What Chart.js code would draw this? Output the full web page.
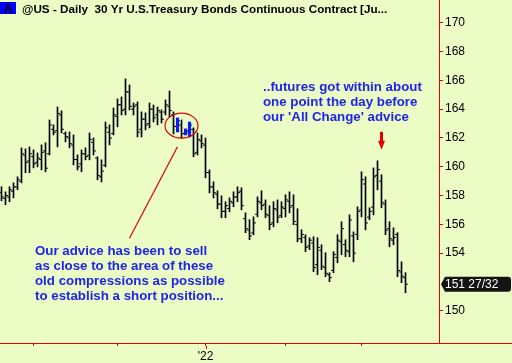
<!DOCTYPE html>
<html>
<head>
<meta charset="utf-8">
<script src="https://cdn.jsdelivr.net/npm/chart.js@4.4.0/dist/chart.umd.min.js"></script>
<style>
  html, body { margin: 0; padding: 0; background: #ebfcc5; }
  canvas { display: block; }
</style>
</head>
<body>
<canvas id="bondChart" width="512" height="363"></canvas>
<script>
// daily OHLC, one entry per trading day (Oct 2021 .. Mar 2022)
const highs = [
  158.61, 158.26, 158.61, 158.88, 159.30, 161.31, 161.24, 161.38, 161.17, 160.96,
  161.52, 161.66, 163.25, 162.91, 164.15, 163.88, 162.42, 162.42, 162.21, 160.82,
  161.17, 161.31, 162.35, 162.00, 160.69, 160.48, 163.11, 162.91, 164.08, 164.71,
  164.85, 166.10, 165.68, 164.43, 164.50, 163.81, 163.74, 164.43, 164.29, 164.15,
  163.95, 164.64, 165.26, 163.81, 163.39, 163.25, 162.63, 163.11, 162.70, 162.35,
  162.21, 162.00, 159.78, 158.95, 158.33, 157.98, 157.57, 157.84, 158.26, 158.61,
  158.54, 156.80, 156.32, 156.52, 157.91, 158.33, 157.70, 157.29, 157.57, 157.70,
  157.57, 158.05, 158.26, 158.05, 157.08, 155.62, 155.28, 155.07, 155.14, 155.07,
  154.58, 154.03, 152.64, 154.10, 155.28, 156.18, 154.93, 156.66, 155.48, 157.22,
  159.65, 159.30, 157.15, 159.92, 160.41, 159.44, 157.70, 156.18, 155.76, 155.42,
  153.40, 152.64
];
const lows = [
  157.63, 157.36, 157.57, 157.84, 158.40, 158.88, 159.58, 159.58, 159.92, 159.99,
  159.78, 159.65, 160.82, 162.21, 161.38, 162.35, 161.73, 161.31, 160.13, 159.78,
  159.65, 160.48, 160.48, 160.82, 159.09, 158.95, 159.99, 161.52, 162.21, 162.77,
  163.60, 163.60, 163.95, 163.60, 162.07, 162.07, 162.56, 162.70, 163.11, 162.91,
  163.04, 163.60, 163.46, 162.28, 162.42, 162.00, 162.21, 162.07, 160.69, 160.82,
  161.31, 159.23, 158.19, 157.84, 157.08, 156.46, 156.46, 156.87, 157.22, 157.57,
  157.01, 155.42, 154.93, 155.28, 156.52, 157.01, 156.46, 155.62, 155.83, 156.11,
  156.46, 156.52, 156.80, 155.97, 154.79, 154.72, 154.10, 154.24, 152.71, 152.50,
  152.85, 152.36, 152.02, 152.64, 153.33, 153.89, 153.75, 153.75, 153.40, 154.93,
  156.52, 155.62, 156.32, 156.66, 158.40, 157.15, 155.28, 154.44, 154.58, 152.36,
  151.95, 151.25
];
const opens = [
  158.2, 157.8, 157.9, 158.3, 158.6, 159.0, 160.8, 160.4, 160.7, 160.3,
  160.5, 161.1, 160.9, 162.6, 162.5, 163.6, 162.3, 162.0, 161.5, 160.5,
  160.2, 160.9, 160.8, 161.7, 160.6, 159.3, 160.1, 162.4, 162.3, 163.5,
  164.3, 164.0, 165.2, 164.0, 164.3, 162.6, 163.3, 163.0, 164.0, 163.6,
  163.8, 163.8, 164.2, 163.6, 162.8, 162.9, 162.3, 162.4, 162.6, 161.0,
  161.8, 161.5, 159.6, 158.6, 158.1, 157.4, 156.9, 157.1, 157.5, 157.9,
  158.3, 156.4, 155.6, 155.4, 156.7, 157.5, 157.4, 156.6, 156.1, 157.0,
  156.6, 157.1, 157.6, 157.3, 156.0, 155.0, 155.1, 154.5, 154.7, 153.2,
  154.2, 153.0, 152.5, 152.8, 153.7, 154.8, 154.6, 154.1, 155.2, 155.3,
  157.0, 158.8, 156.5, 157.2, 159.4, 159.0, 157.4, 155.7, 154.9, 155.3,
  152.7, 152.3
];
const closes = [
  157.9, 158.0, 158.4, 158.6, 159.1, 160.9, 160.3, 160.9, 160.2, 160.6,
  161.0, 159.9, 162.9, 162.4, 163.7, 162.6, 162.1, 161.6, 160.5, 160.0,
  160.9, 160.7, 161.9, 161.1, 159.4, 159.7, 162.7, 162.0, 163.6, 164.3,
  163.9, 165.2, 164.2, 164.2, 162.4, 163.3, 162.9, 164.0, 163.4, 163.9,
  163.3, 164.3, 163.9, 162.8, 163.2, 162.3, 162.5, 162.9, 160.9, 161.9,
  161.6, 159.6, 158.6, 158.2, 157.4, 156.9, 157.3, 157.6, 157.9, 158.2,
  157.3, 155.7, 155.2, 156.1, 157.6, 157.3, 156.7, 156.0, 157.1, 156.5,
  157.2, 157.7, 157.2, 156.2, 155.0, 155.3, 154.4, 154.9, 153.0, 154.4,
  153.1, 152.6, 152.3, 153.9, 154.9, 155.7, 154.2, 156.3, 154.0, 156.9,
  159.1, 156.1, 156.9, 159.3, 159.8, 157.5, 155.6, 155.0, 155.1, 152.8,
  152.4, 151.84375
];
// the old compression bars drawn in blue
const compressionBars = [44, 46, 47];
// first bar of each month, and their labels
const monthStarts = [8, 29, 51, 71, 90];
const monthLabels = ['', '', "'22", '', ''];
const yTicks = [150, 154, 156, 158, 160, 162, 164, 166, 168, 170];
const yMin = 147.76, yMax = 171.58;
const xMin = -0.375, xMax = 109.375;

const RED = '#e00000';
const BLUE_TEXT = '#1f24e8';
const BG = '#ebfcc5';
const FONT = 'Liberation Sans, Arial, sans-serif';

const idx = highs.map((h, i) => i);
const plainBars = idx.filter(i => !compressionBars.includes(i)).map(i => ({ x: i, y: [lows[i], highs[i]] }));
const blueBars = compressionBars.map(i => ({ x: i, y: [lows[i], highs[i]] }));
const openTicks = idx.map(i => ({ x: i - 0.3, y: opens[i] }));
const closeTicks = idx.map(i => ({ x: i + 0.3, y: closes[i] }));

function toThirtySeconds(v) {
  const whole = Math.floor(v);
  return whole + ' ' + Math.round((v - whole) * 32) + '/32';
}

const background = {
  id: 'background',
  beforeDraw(chart) {
    const ctx = chart.ctx;
    ctx.save();
    ctx.fillStyle = BG;
    ctx.fillRect(0, 0, chart.width, chart.height);
    ctx.restore();
  }
};

const notes = {
  id: 'notes',
  afterDraw(chart) {
    const { ctx, chartArea } = chart;
    const xs = chart.scales.x, ys = chart.scales.y;
    ctx.save();

    // axis line runs on under the price column, year tick is longer
    ctx.strokeStyle = RED;
    ctx.lineWidth = 1;
    ctx.beginPath();
    ctx.moveTo(chartArea.right, chartArea.bottom + 0.5);
    ctx.lineTo(chart.width, chartArea.bottom + 0.5);
    const yx = Math.round(xs.getPixelForValue(monthStarts[2])) + 0.5;
    ctx.moveTo(yx, chartArea.bottom + 3);
    ctx.lineTo(yx, chartArea.bottom + 6);
    ctx.stroke();

    // header
    ctx.fillStyle = '#0000ff';
    ctx.fillRect(0, 2, 16, 12);
    ctx.fillStyle = '#000';
    ctx.font = 'bold 12px ' + FONT;
    ctx.textBaseline = 'alphabetic';
    ctx.textAlign = 'center';
    ctx.fillText('A', 8, 13);
    ctx.textAlign = 'left';
    ctx.font = 'bold 11.7px ' + FONT;
    ctx.fillText('@US - Daily  30 Yr U.S.Treasury Bonds Continuous Contract [Ju...', 22, 13);

    // ring round the compressions and the pointer to the note
    const cx = xs.getPixelForValue(45), cy = ys.getPixelForValue(162.85);
    ctx.strokeStyle = RED;
    ctx.lineWidth = 1.2;
    ctx.beginPath();
    ctx.ellipse(cx, cy, 16.5, 12.5, 0, 0, Math.PI * 2);
    ctx.stroke();
    ctx.beginPath();
    ctx.moveTo(cx - 4, cy + 21);
    ctx.lineTo(cx - 52, cy + 112.5);
    ctx.stroke();

    // arrow over the rally high
    const ax = xs.getPixelForValue(95);
    const tip = ys.getPixelForValue(highs[94]) - 11;
    ctx.fillStyle = RED;
    ctx.fillRect(ax - 1.5, tip - 18, 3, 11);
    ctx.beginPath();
    ctx.moveTo(ax - 3.5, tip - 9);
    ctx.lineTo(ax + 3.5, tip - 9);
    ctx.lineTo(ax, tip);
    ctx.closePath();
    ctx.fill();

    // notes
    ctx.fillStyle = BLUE_TEXT;
    ctx.font = 'bold 13.3px ' + FONT;
    ['..futures got within about', 'one point the day before', "our 'All Change' advice"]
      .forEach((t, k) => ctx.fillText(t, 263, 91 + k * 15));
    ['Our advice has been to sell', 'as close to the area of these',
     'old compressions as possible', 'to establish a short position...']
      .forEach((t, k) => ctx.fillText(t, 35, 255 + k * 15));

    // last price flag
    const last = closes[closes.length - 1];
    const py = ys.getPixelForValue(last);
    const l = chartArea.right + 2;
    ctx.fillStyle = '#141414';
    ctx.beginPath();
    ctx.moveTo(l, py);
    ctx.lineTo(l + 4, py - 7.5);
    ctx.lineTo(l + 67, py - 7.5);
    ctx.quadraticCurveTo(l + 70, py - 7.5, l + 70, py - 4.5);
    ctx.lineTo(l + 70, py + 4.5);
    ctx.quadraticCurveTo(l + 70, py + 7.5, l + 67, py + 7.5);
    ctx.lineTo(l + 4, py + 7.5);
    ctx.closePath();
    ctx.fill();
    ctx.fillStyle = '#fff';
    ctx.font = '12px ' + FONT;
    ctx.textBaseline = 'middle';
    ctx.fillText(toThirtySeconds(last), l + 4, py + 0.5);

    ctx.restore();
  }
};

new Chart(document.getElementById('bondChart'), {
  type: 'bar',
  data: {
    datasets: [
      { data: plainBars, backgroundColor: '#000', barThickness: 1, grouped: false },
      { data: blueBars, backgroundColor: '#0a1cf0', barThickness: 2.5, grouped: false },
      { type: 'scatter', data: openTicks, pointStyle: 'line', pointRadius: 1.2,
        pointBorderColor: '#000', pointBorderWidth: 1 },
      { type: 'scatter', data: closeTicks, pointStyle: 'line', pointRadius: 1.2,
        pointBorderColor: '#000', pointBorderWidth: 1 }
    ]
  },
  options: {
    responsive: false,
    animation: false,
    events: [],
    layout: { padding: 0, autoPadding: false },
    plugins: { legend: { display: false }, tooltip: { enabled: false } },
    scales: {
      x: {
        type: 'linear',
        min: xMin,
        max: xMax,
        offset: false,
        afterBuildTicks: s => { s.ticks = monthStarts.map(v => ({ value: v })); },
        afterFit: s => { s.height = 20; s.paddingLeft = 0; s.paddingRight = 0; },
        grid: { drawOnChartArea: false, offset: false, tickLength: 3, tickColor: RED },
        border: { color: RED },
        ticks: {
          autoSkip: false, maxRotation: 0, padding: 3, color: '#000',
          font: { family: FONT, size: 12 },
          callback: (v, i) => monthLabels[i]
        }
      },
      y: {
        position: 'right',
        min: yMin,
        max: yMax,
        afterBuildTicks: s => { s.ticks = yTicks.map(v => ({ value: v })); },
        afterFit: s => { s.width = 73; s.paddingTop = 0; s.paddingBottom = 0; },
        grid: { drawOnChartArea: false, tickLength: 4, tickColor: RED },
        border: { color: RED },
        ticks: { padding: 2, color: '#000', font: { family: FONT, size: 12 } }
      }
    }
  },
  plugins: [background, notes]
});
</script>
</body>
</html>
